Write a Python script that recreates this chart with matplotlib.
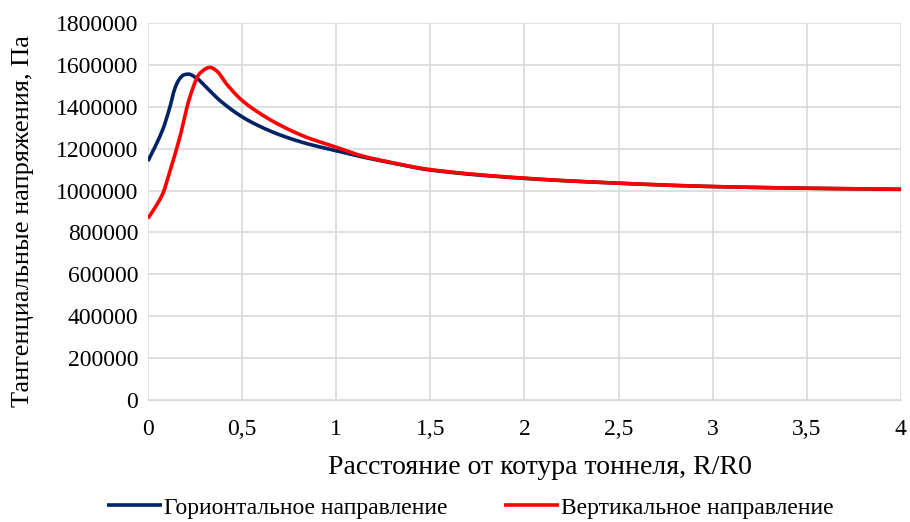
import numpy as np
import matplotlib
matplotlib.use("Agg")
import matplotlib.pyplot as plt

plt.rcParams["font.family"] = ["Liberation Serif", "DejaVu Serif"]

# Distance from the tunnel contour, R/R0
r_hor = [0.0, 0.04, 0.081, 0.117, 0.143, 0.17, 0.19, 0.214, 0.258, 0.311,
         0.382, 0.5, 0.586, 0.70, 0.84, 1.0, 1.126, 1.25, 1.5, 2.0, 2.4,
         3.0, 3.5, 4.0]
# Tangential stress, horizontal direction, Pa
s_hor = [1141000, 1213000, 1297000, 1400000, 1488000, 1536000, 1552000,
         1556000, 1537000, 1492000, 1430000, 1352000, 1310000, 1266000,
         1225000, 1190000, 1163000, 1140000, 1098000, 1058000, 1039000,
         1019000, 1011000, 1006000]

r_ver = [0.0, 0.04, 0.081, 0.108, 0.17, 0.223, 0.276, 0.33, 0.364, 0.418,
         0.5, 0.6, 0.70, 0.84, 1.0, 1.126, 1.25, 1.5, 2.0, 2.4, 3.0, 3.5, 4.0]
# Tangential stress, vertical direction, Pa
s_ver = [867000, 922000, 990000, 1066000, 1257000, 1448000, 1560000,
         1588000, 1572000, 1508000, 1430000, 1365000, 1313000, 1255000,
         1207000, 1168000, 1142000, 1100000, 1059000, 1039000, 1019000,
         1011000, 1006000]

labels = ["Горионтальное направление", "Вертикальное направление"]
colors = ["#002366", "#ff0000"]

x_ticks = [0, 0.5, 1, 1.5, 2, 2.5, 3, 3.5, 4]
x_ticklabels = ["0", "0,5", "1", "1,5", "2", "2,5", "3", "3,5", "4"]
y_ticks = list(range(0, 1800001, 200000))


def smooth(x, y, n=500):
    # monotone cubic (PCHIP-like) interpolation for a smooth curve through the points
    x = np.asarray(x, float)
    y = np.asarray(y, float)
    h = np.diff(x)
    d = np.diff(y) / h
    m = np.zeros_like(y)
    m[0], m[-1] = d[0], d[-1]
    for i in range(1, len(y) - 1):
        if d[i - 1] * d[i] > 0:
            w1 = 2 * h[i] + h[i - 1]
            w2 = h[i] + 2 * h[i - 1]
            m[i] = (w1 + w2) / (w1 / d[i - 1] + w2 / d[i])
    xs = np.linspace(x[0], x[-1], n)
    k = np.clip(np.searchsorted(x, xs) - 1, 0, len(x) - 2)
    t = (xs - x[k]) / h[k]
    h00 = 2 * t**3 - 3 * t**2 + 1
    h10 = t**3 - 2 * t**2 + t
    h01 = -2 * t**3 + 3 * t**2
    h11 = t**3 - t**2
    ys = h00 * y[k] + h10 * h[k] * m[k] + h01 * y[k + 1] + h11 * h[k] * m[k + 1]
    return xs, ys


fig = plt.figure(figsize=(9.1, 5.22), dpi=100)
ax = fig.add_axes([0.1626, 0.2337, 0.8274, 0.7223])

for (x, y), lab, c in zip([(r_hor, s_hor), (r_ver, s_ver)], labels, colors):
    xs, ys = smooth(x, y)
    ax.plot(xs, ys, color=c, lw=2.6, label=lab, solid_capstyle="butt")

ax.set_xlim(0, 4)
ax.set_ylim(0, 1800000)
ax.set_xticks(x_ticks)
ax.set_xticklabels(x_ticklabels)
ax.set_yticks(y_ticks)
ax.set_yticklabels([str(v) for v in y_ticks])

ax.grid(True, color="#d9d9d9", lw=1.2)
ax.set_axisbelow(True)
for s in ["top", "right", "left"]:
    ax.spines[s].set_visible(False)
ax.spines["bottom"].set_color("#d9d9d9")
ax.tick_params(length=0, labelsize=17)
ax.tick_params(axis="x", pad=14)
ax.tick_params(axis="y", pad=7)

# axis titles placed in figure coordinates
fig.text(0.593, 0.105, "Расстояние от котура тоннеля, R/R0", fontsize=20,
         ha="center", va="center")
fig.text(0.025, 0.577, "Тангенциальные напряжения, Па", fontsize=19,
         ha="center", va="center", rotation=90)

fig.legend(loc="center", ncol=2, frameon=False, fontsize=17,
           bbox_to_anchor=(0.517, 0.027), handlelength=2.3, handletextpad=0.1,
           columnspacing=2.4, borderpad=0)

fig.savefig("out.png", dpi=100)
